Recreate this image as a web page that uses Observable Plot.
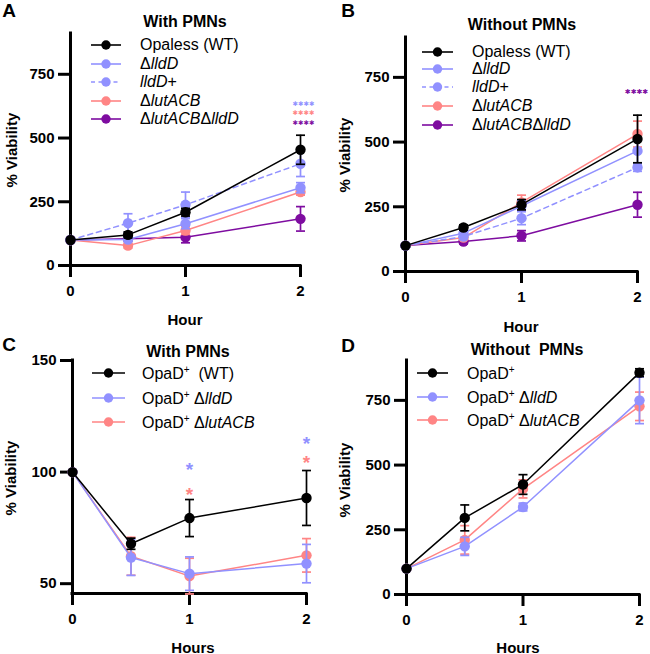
<!DOCTYPE html>
<html>
<head>
<meta charset="utf-8">
<script src="https://cdn.jsdelivr.net/npm/d3@7"></script>
<script src="https://cdn.jsdelivr.net/npm/@observablehq/plot@0.6"></script>
<style>
  body { margin: 0; background: #fff; }
  #fig { position: relative; width: 650px; height: 654px; overflow: hidden;
         font-family: "Liberation Sans", Arial, sans-serif; color: #000; }
  .abs { position: absolute; white-space: nowrap; line-height: 1; }
  .c { transform: translate(-50%, -50%); }
  .rot { transform: translate(-50%, -50%) rotate(-90deg); }
  .title { font-weight: bold; font-size: 16px; }
  .axlab { font-weight: bold; font-size: 15px; }
  .letter { font-weight: bold; font-size: 19px; }
  .leg { font-size: 16px; transform: translateY(-50%); }
  .leg sup { font-size: 10px; vertical-align: 6px; }
  svg.plot { position: absolute; overflow: visible; }
</style>
</head>
<body>
<div id="fig"></div>
<script>
// Sampling times (hours)
const hours = [0, 0.5, 1, 2];

// A: Opaless background, with PMNs (% viability, mean and SEM)
const aWT = [100, 120, 209, 454],      aWTerr = [0, 12, 15, 57];
const aLldD = [100, 102, 164, 305],    aLldDerr = [0, 8, 20, 20];
const aLldDp = [100, 166, 238, 399],   aLldDperr = [0, 37, 50, 50];
const aLut = [100, 78, 137, 288],      aLuterr = [0, 10, 15, 12];
const aDbl = [100, 105, 111, 183],     aDblerr = [0, 8, 22, 48];

// B: Opaless background, without PMNs
const bWT = [100, 170, 258, 512],      bWTerr = [0, 10, 20, 92];
const bLldD = [100, 148, 253, 466],    bLldDerr = [0, 8, 20, 50];
const bLldDp = [100, 135, 206, 402],   bLldDperr = [0, 8, 25, 15];
const bLut = [100, 131, 267, 531],     bLuterr = [0, 8, 28, 50];
const bDbl = [100, 116, 138, 258],     bDblerr = [0, 10, 20, 48];

// C: OpaD+ background, with PMNs
const cWT = [100, 67.9, 79.4, 88.4],   cWTerr = [0, 2.5, 8.3, 12.3];
const cLldD = [100, 61.7, 54.5, 59.0], cLldDerr = [0, 8, 7.5, 8.6];
const cLut = [100, 62.3, 53.4, 62.7],  cLuterr = [0, 8.5, 8, 7.5];

// D: OpaD+ background, without PMNs
const dWT = [100, 296, 425, 857],      dWTerr = [0, 50, 38, 15];
const dLldD = [100, 186, 338, 750],    dLldDerr = [0, 35, 15, 90];
const dLut = [100, 211, 408, 727],     dLuterr = [0, 55, 35, 55];

// Significance marks: hour, % viability where the mark sits, series key, text
const aStarHours = [2, 2, 2], aStarVals = [632, 597, 561], aStarKeys = ["lldD", "lut", "dbl"], aStarText = ["✱✱✱✱", "✱✱✱✱", "✱✱✱✱"];
const bStarHours = [2], bStarVals = [695], bStarKeys = ["dbl"], bStarText = ["✱✱✱✱"];
const cStarHours = [1, 1, 2, 2], cStarVals = [103, 92.1, 115, 106.4], cStarKeys = ["lldD", "lut", "lldD", "lut"], cStarText = ["*", "*", "*", "*"];

// Axis ticks
const xTicks = [0, 1, 2];
const yTicksWide = [0, 250, 500, 750];
const yTicksC = [50, 100, 150];

// Legend labels
const opalessLabels = ["Opaless (WT)", "Δ<i>lldD</i>", "<i>lldD</i>+", "Δ<i>lutACB</i>", "Δ<i>lutACB</i>Δ<i>lldD</i>"];
const opaCLabels = ["OpaD<sup>+</sup>&nbsp; (WT)", "OpaD<sup>+</sup> Δ<i>lldD</i>", "OpaD<sup>+</sup> Δ<i>lutACB</i>"];
const opaDLabels = ["OpaD<sup>+</sup>", "OpaD<sup>+</sup> Δ<i>lldD</i>", "OpaD<sup>+</sup> Δ<i>lutACB</i>"];

const COLORS = { wt: "#000000", lldD: "#9191ff", lldDp: "#9191ff", lut: "#ff8585", dbl: "#7e0ca0" };
const DASHED = { lldDp: true };

const fig = document.getElementById("fig");

// error bar cap drawn as a short horizontal stroke
const cap = { draw(ctx) { ctx.moveTo(-4.5, 0); ctx.lineTo(4.5, 0); } };

function addText(html, x, y, cls) {
  const el = document.createElement("div");
  el.className = "abs " + cls;
  el.style.left = x + "px";
  el.style.top = y + "px";
  el.innerHTML = html;
  fig.appendChild(el);
}

function addLegend(items, lg) {
  items.forEach((it, i) => {
    const y = lg.rows[i];
    const w = lg.x1 - lg.x0;
    const s = document.createElementNS("http://www.w3.org/2000/svg", "svg");
    s.setAttribute("width", w); s.setAttribute("height", 12);
    s.style.position = "absolute"; s.style.left = lg.x0 + "px"; s.style.top = (y - 6) + "px";
    s.innerHTML = `<line x1="0" x2="${w}" y1="6" y2="6" stroke="${COLORS[it.key]}" stroke-width="1.6" ${DASHED[it.key] ? 'stroke-dasharray="4,3.5"' : ""}/>` +
                  `<circle cx="${w / 2}" cy="6" r="4.7" fill="${COLORS[it.key]}"/>`;
    fig.appendChild(s);
    addText(it.label, lg.tx, y, "leg");
  });
}

function drawPanel(p) {
  const rows = p.series.flatMap(s => hours.map((h, i) => ({ key: s.key, hour: h, v: s.mean[i], e: s.err[i] })));
  const marks = [
    Plot.axisX({ ticks: xTicks, tickFormat: d => String(d), tickSize: 12, tickPadding: 8, strokeWidth: 3, label: null, fontSize: 15 }),
    Plot.axisY({ ticks: p.yTicks, tickSize: 12, tickPadding: 4, strokeWidth: 3, label: null, fontSize: 15 }),
    Plot.ruleY([p.yDomain[0]], { strokeWidth: 3, strokeLinecap: "square" }),
    Plot.ruleX([0], { strokeWidth: 3, strokeLinecap: "square" })
  ];
  for (const s of p.series) {
    const col = COLORS[s.key];
    const d = rows.filter(r => r.key === s.key);
    const eb = d.filter(r => r.e > 0);
    const caps = eb.flatMap(r => [{ hour: r.hour, y: r.v - r.e }, { hour: r.hour, y: r.v + r.e }]);
    marks.push(
      Plot.ruleX(eb, { x: "hour", y1: r => r.v - r.e, y2: r => r.v + r.e, stroke: col, strokeWidth: 1.7 }),
      Plot.dot(caps, { x: "hour", y: "y", symbol: cap, stroke: col, fill: "none", strokeWidth: 1.7 }),
      Plot.line(d, { x: "hour", y: "v", stroke: col, strokeWidth: 1.5, ...(DASHED[s.key] ? { strokeDasharray: "5,4" } : {}) }),
      Plot.dot(d, { x: "hour", y: "v", r: 5.2, fill: col, stroke: "none" })
    );
  }
  const st = p.stars;
  st.hours.forEach((h, i) => {
    marks.push(Plot.text([{ hour: h, v: st.vals[i] }], {
      x: "hour", y: "v", text: () => st.text[i], fill: COLORS[st.keys[i]],
      fontSize: st.size, fontWeight: "bold", fontFamily: st.font, lineAnchor: "middle", dy: st.dy, dx: st.dx
    }));
  });
  const svg = Plot.plot({
    width: 325, height: 327,
    marginLeft: p.m[0], marginRight: p.m[1], marginTop: p.m[2], marginBottom: p.m[3],
    x: { type: "linear", domain: [0, 2] },
    y: { type: "linear", domain: p.yDomain },
    style: { fontFamily: "'Liberation Sans', Arial, sans-serif", fontWeight: "bold", color: "#000", background: "transparent" },
    marks
  });
  svg.classList.add("plot");
  svg.style.left = p.ox + "px";
  svg.style.top = p.oy + "px";
  fig.appendChild(svg);

  addText(p.title, p.t[0], p.t[1], "c title");
  addText("% Viability", p.yl[0], p.yl[1], "rot axlab");
  addText(p.xlabel, p.xl[0], p.xl[1], "c axlab");
  addText(p.letter, p.L[0], p.L[1], "c letter");
  addLegend(p.series.map((s, i) => ({ key: s.key, label: p.labels[i] })), p.legend);
}

const starFont = "'DejaVu Sans', sans-serif";

// panel A
drawPanel({
  ox: 0, oy: 0, m: [70, 25, 33, 62], yDomain: [0, 910], yTicks: yTicksWide,
  series: [
    { key: "wt", mean: aWT, err: aWTerr }, { key: "lldD", mean: aLldD, err: aLldDerr },
    { key: "lldDp", mean: aLldDp, err: aLldDperr }, { key: "lut", mean: aLut, err: aLuterr },
    { key: "dbl", mean: aDbl, err: aDblerr }
  ].reverse(),
  labels: opalessLabels.slice().reverse(),
  stars: { hours: aStarHours, vals: aStarVals, keys: aStarKeys, text: aStarText, size: 6.5, font: starFont, dy: 0, dx: 3 },
  title: "With PMNs", t: [185, 22], yl: [11, 150], xlabel: "Hour", xl: [185, 319], letter: "A", L: [9, 10],
  legend: { x0: 91, x1: 121, tx: 140, rows: [119, 100.5, 82, 63.5, 45] }
});

// panel B
drawPanel({
  ox: 325, oy: 0, m: [80, 13, 37, 56], yDomain: [0, 904], yTicks: yTicksWide,
  series: [
    { key: "wt", mean: bWT, err: bWTerr }, { key: "lldD", mean: bLldD, err: bLldDerr },
    { key: "lldDp", mean: bLldDp, err: bLldDperr }, { key: "lut", mean: bLut, err: bLuterr },
    { key: "dbl", mean: bDbl, err: bDblerr }
  ].reverse(),
  labels: opalessLabels.slice().reverse(),
  stars: { hours: bStarHours, vals: bStarVals, keys: bStarKeys, text: bStarText, size: 7, font: starFont, dy: 0, dx: -1 },
  title: "Without PMNs", t: [522, 25], yl: [344, 155], xlabel: "Hour", xl: [521, 326], letter: "B", L: [348, 10],
  legend: { x0: 422, x1: 453, tx: 472, rows: [125, 106, 87.3, 69.3, 51.7] }
});

// panel C
drawPanel({
  ox: 0, oy: 327, m: [72, 19, 33, 61], yDomain: [45.6, 150], yTicks: yTicksC,
  series: [
    { key: "wt", mean: cWT, err: cWTerr }, { key: "lldD", mean: cLldD, err: cLldDerr },
    { key: "lut", mean: cLut, err: cLuterr }
  ].reverse(),
  labels: opaCLabels.slice().reverse(),
  stars: { hours: cStarHours, vals: cStarVals, keys: cStarKeys, text: cStarText, size: 19, font: "'Liberation Sans', Arial, sans-serif", dy: 5, dx: 0 },
  title: "With PMNs", t: [188, 352], yl: [10, 478], xlabel: "Hours", xl: [193, 647], letter: "C", L: [9, 344],
  legend: { x0: 92, x1: 125, tx: 142, rows: [421.7, 398, 373] }
});

// panel D
drawPanel({
  ox: 325, oy: 327, m: [81, 11, 33, 60], yDomain: [0, 904], yTicks: yTicksWide,
  series: [
    { key: "wt", mean: dWT, err: dWTerr }, { key: "lldD", mean: dLldD, err: dLldDerr },
    { key: "lut", mean: dLut, err: dLuterr }
  ].reverse(),
  labels: opaDLabels.slice().reverse(),
  stars: { hours: [], vals: [], keys: [], text: [], size: 15, font: starFont, dy: 0, dx: 0 },
  title: "Without&nbsp; PMNs", t: [527, 350], yl: [344, 480], xlabel: "Hours", xl: [518, 647], letter: "D", L: [348, 345],
  legend: { x0: 417, x1: 448, tx: 467, rows: [420, 397, 372.7] }
});
</script>
</body>
</html>
